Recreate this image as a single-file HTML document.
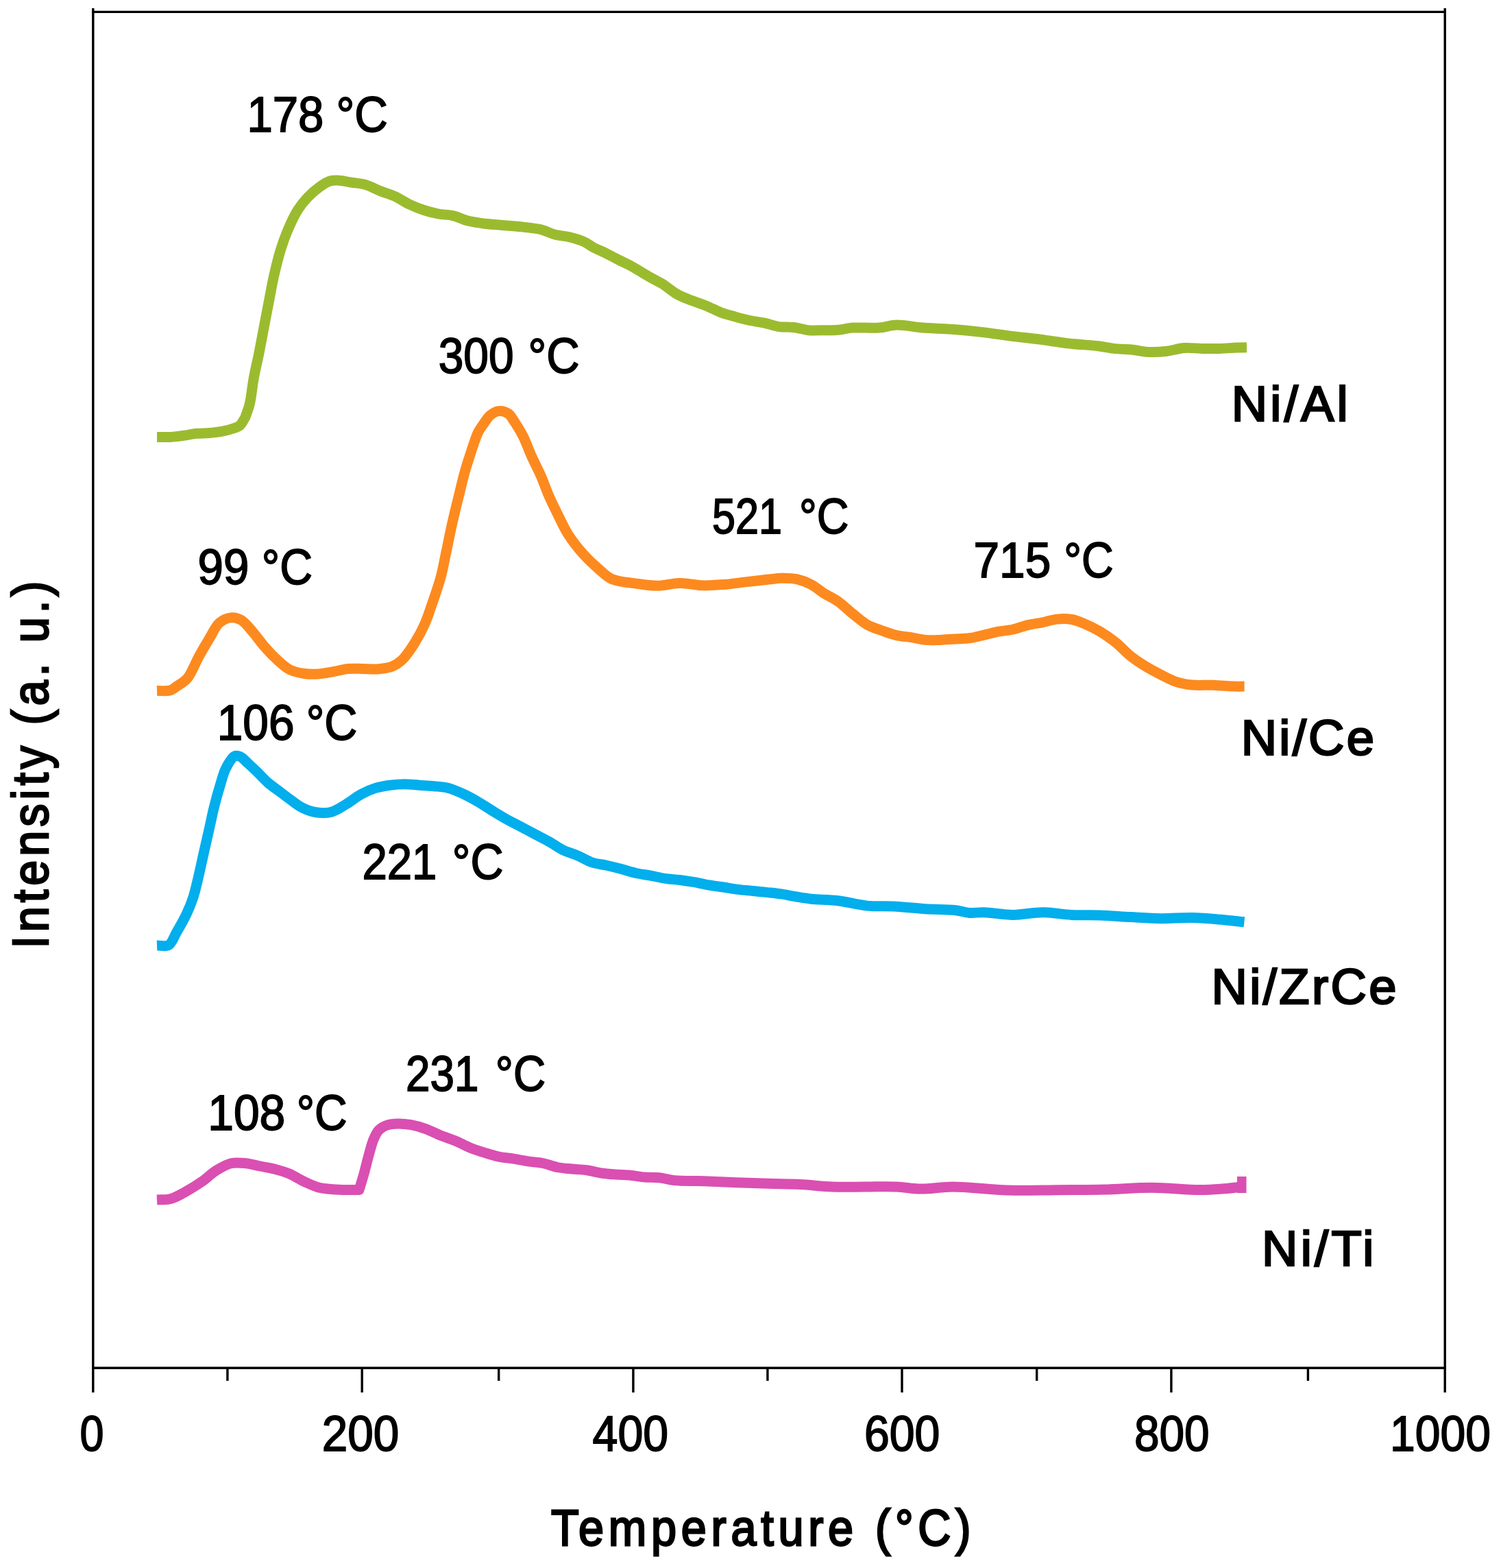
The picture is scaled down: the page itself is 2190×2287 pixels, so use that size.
<!DOCTYPE html>
<html><head><meta charset="utf-8"><title>H2-TPR profiles</title>
<style>html,body{margin:0;padding:0;background:#fff;}svg{display:block;}</style></head>
<body>
<svg width="2190" height="2287" viewBox="0 0 2190 2287" font-family="'Liberation Sans', Arial, sans-serif" fill="#000"><rect x="0" y="0" width="2190" height="2287" fill="#fff"/>
<path d="M229.0,637.4 C235.7,637.4 242.4,637.8 249.0,637.4 C255.4,637.0 261.7,636.1 268.0,635.3 C274.3,634.4 280.6,632.9 287.0,632.3 C293.3,631.7 299.6,632.1 306.0,631.5 C312.5,630.9 319.5,630.1 325.5,628.9 C330.7,627.9 335.7,626.5 340.0,625.0 C343.7,623.7 347.1,622.9 350.0,620.5 C353.3,617.7 355.3,612.5 357.9,608.5 C360.0,602.2 362.4,597.1 364.2,589.6 C366.7,579.3 367.9,564.4 370.2,551.9 C372.5,539.3 375.6,526.8 378.1,514.2 C380.6,501.6 382.9,489.0 385.3,476.4 C387.7,463.8 390.1,451.3 392.5,438.7 C395.0,426.1 397.1,413.4 400.0,400.9 C402.9,388.3 406.2,374.8 409.8,363.2 C413.0,353.0 416.2,344.2 420.2,334.9 C424.3,325.4 429.1,314.9 434.3,306.6 C438.8,299.4 443.7,293.4 449.1,287.7 C454.4,282.1 460.6,276.7 466.4,272.6 C471.4,269.0 476.7,265.5 481.5,264.0 C485.4,262.8 488.5,262.9 492.8,263.0 C498.4,263.2 505.4,265.0 512.0,266.0 C518.9,267.1 526.3,267.4 533.3,269.4 C540.5,271.5 547.5,275.6 554.6,278.4 C561.7,281.2 568.9,283.0 575.9,286.2 C583.1,289.5 590.0,294.6 597.2,298.0 C604.2,301.3 611.3,304.2 618.5,306.5 C625.5,308.8 632.7,310.6 639.8,312.0 C646.9,313.3 654.1,313.0 661.1,314.6 C668.3,316.3 675.3,320.1 682.5,322.0 C689.5,323.8 696.7,324.7 703.8,325.7 C710.9,326.7 717.9,327.2 725.0,327.8 C732.1,328.4 739.3,328.9 746.4,329.5 C753.5,330.1 760.6,330.7 767.7,331.6 C774.8,332.5 782.0,333.1 789.0,334.8 C796.2,336.6 803.1,340.4 810.3,342.3 C817.3,344.1 824.6,344.2 831.6,346.0 C838.8,347.8 846.8,350.2 852.9,353.0 C857.9,355.3 861.4,358.5 866.0,361.0 C870.8,363.6 875.8,365.3 881.3,368.0 C887.8,371.2 895.5,375.4 902.6,379.0 C909.7,382.6 916.9,385.8 923.9,389.7 C931.1,393.7 938.0,398.4 945.2,402.5 C952.3,406.6 959.6,409.9 966.6,414.2 C973.8,418.7 980.6,425.0 987.9,429.1 C994.8,433.0 1002.1,435.5 1009.2,438.3 C1016.3,441.1 1023.5,443.2 1030.5,446.1 C1037.7,449.0 1044.6,453.0 1051.8,455.7 C1058.8,458.3 1066.0,460.1 1073.1,462.1 C1080.2,464.1 1087.3,466.0 1094.4,467.5 C1101.5,469.0 1108.6,469.6 1115.7,471.1 C1122.8,472.6 1129.8,475.5 1137.0,476.6 C1144.1,477.6 1151.3,476.7 1158.4,477.5 C1165.5,478.3 1172.6,481.0 1179.7,481.7 C1186.8,482.4 1193.9,481.8 1201.0,481.7 C1208.1,481.6 1215.2,481.9 1222.3,481.3 C1229.4,480.7 1235.4,478.7 1243.6,478.1 C1254.6,477.3 1271.0,478.9 1282.6,478.0 C1292.1,477.3 1298.8,474.3 1308.2,474.1 C1319.7,473.8 1333.5,477.0 1346.6,478.0 C1360.4,479.1 1375.0,479.2 1389.2,480.3 C1403.4,481.4 1417.6,482.8 1431.8,484.4 C1446.0,486.0 1460.2,488.3 1474.4,490.1 C1488.6,491.9 1502.8,493.2 1517.0,495.0 C1531.2,496.8 1545.5,499.4 1559.7,501.0 C1573.9,502.6 1590.2,503.3 1602.3,504.8 C1611.2,505.9 1617.6,507.5 1625.6,508.4 C1633.9,509.3 1642.6,509.2 1651.1,510.0 C1659.6,510.9 1668.1,513.1 1676.7,513.5 C1685.2,513.9 1693.8,513.2 1702.3,512.2 C1710.9,511.2 1719.3,508.1 1727.9,507.5 C1736.4,506.9 1744.9,508.2 1753.4,508.4 C1761.9,508.6 1770.5,508.6 1779.0,508.4 C1787.5,508.2 1797.3,507.4 1804.6,507.1 C1810.1,506.9 1814.2,506.8 1819.0,506.7" fill="none" stroke="#9bbb2f" stroke-width="15.0" stroke-linejoin="round" stroke-linecap="butt"/>
<path d="M229.0,1007.5 C235.3,1007.3 242.8,1008.5 248.0,1007.0 C252.0,1005.8 254.4,1003.5 258.0,1001.0 C262.6,997.8 268.6,994.8 273.3,989.3 C279.7,981.7 284.7,967.4 290.3,957.4 C295.3,948.3 300.1,940.1 305.2,931.8 C310.1,923.8 314.1,913.6 320.2,908.4 C325.2,904.2 331.6,901.4 337.2,900.9 C342.3,900.4 347.3,901.8 352.1,904.5 C358.1,908.0 363.7,915.9 369.2,922.2 C375.0,928.8 380.2,936.7 386.2,943.5 C392.2,950.4 399.0,957.5 405.4,963.3 C411.1,968.4 416.1,973.4 422.5,976.6 C428.9,979.8 436.6,981.4 443.8,982.5 C450.8,983.5 457.9,983.5 465.0,983.0 C472.1,982.5 479.3,980.9 486.4,979.7 C493.5,978.4 500.6,976.2 507.7,975.5 C514.8,974.8 521.9,975.4 529.0,975.5 C536.1,975.6 543.2,976.4 550.3,975.9 C557.4,975.4 565.3,974.8 571.6,972.3 C577.4,970.1 581.9,967.0 586.8,962.4 C592.9,956.6 598.8,947.5 604.2,939.1 C609.9,930.1 615.4,919.9 619.8,910.0 C624.1,900.5 626.8,891.3 630.4,880.9 C634.5,868.9 639.5,855.1 643.0,842.1 C646.5,829.3 648.6,816.2 651.4,803.3 C654.1,790.4 656.6,777.5 659.5,764.6 C662.4,751.7 665.6,738.7 668.8,725.8 C672.0,712.9 675.3,698.2 678.5,687.0 C680.9,678.3 683.5,670.9 685.7,664.0 C687.6,658.2 689.0,653.6 690.9,648.2 C693.0,642.3 695.1,635.4 697.9,630.0 C700.3,625.3 703.2,621.5 706.1,617.5 C708.9,613.5 711.4,609.0 715.0,606.0 C718.5,603.1 722.8,600.1 727.1,599.6 C731.6,599.0 737.4,600.5 741.4,603.1 C745.6,605.9 748.0,611.4 751.4,616.4 C755.4,622.4 759.8,629.5 763.6,637.1 C767.9,645.7 771.4,656.2 775.7,665.7 C780.0,675.3 785.1,684.7 789.3,694.3 C793.4,703.8 796.6,713.4 800.7,722.9 C804.9,732.5 809.6,741.9 814.3,751.4 C819.1,761.0 823.3,770.7 829.3,780.0 C835.6,789.8 843.7,800.0 851.4,808.6 C858.5,816.5 866.4,823.8 873.6,830.0 C879.9,835.4 884.4,840.8 892.1,844.3 C901.7,848.6 916.3,849.4 927.9,851.1 C938.8,852.7 949.2,854.4 959.8,854.3 C970.5,854.2 981.1,850.5 991.8,850.4 C1002.5,850.3 1013.1,853.4 1023.8,853.8 C1034.4,854.2 1045.1,853.4 1055.7,852.6 C1066.4,851.8 1077.0,850.1 1087.7,848.9 C1098.4,847.7 1110.1,846.3 1119.7,845.3 C1127.5,844.5 1133.9,843.3 1141.0,843.2 C1148.1,843.1 1155.3,843.2 1162.3,844.7 C1169.5,846.3 1177.0,849.2 1183.6,852.6 C1190.0,855.9 1195.0,860.8 1201.3,864.8 C1208.0,869.0 1215.7,872.3 1222.6,877.1 C1229.9,882.2 1236.7,889.3 1243.9,895.0 C1250.9,900.6 1257.8,907.0 1265.2,911.2 C1272.1,915.1 1279.4,917.1 1286.6,919.7 C1293.7,922.2 1300.7,924.9 1307.9,926.6 C1314.9,928.2 1322.1,928.6 1329.2,929.7 C1336.3,930.8 1343.4,932.8 1350.5,933.4 C1357.6,934.0 1364.7,933.6 1371.8,933.4 C1378.9,933.2 1386.0,932.3 1393.1,931.9 C1400.2,931.5 1407.3,931.8 1414.4,930.8 C1421.5,929.8 1428.6,927.7 1435.7,926.1 C1442.8,924.5 1449.9,922.6 1457.0,921.2 C1464.1,919.9 1471.2,919.6 1478.3,918.0 C1485.5,916.4 1492.5,913.3 1499.7,911.6 C1506.8,909.9 1513.9,909.2 1521.0,907.8 C1528.1,906.4 1535.2,903.8 1542.3,903.1 C1549.4,902.4 1556.8,902.3 1563.6,903.5 C1570.2,904.6 1576.0,907.1 1582.4,909.8 C1589.6,912.8 1597.5,916.7 1604.8,921.0 C1612.4,925.5 1619.8,930.6 1627.1,936.4 C1634.8,942.5 1641.8,950.7 1649.5,956.8 C1656.8,962.6 1664.3,967.5 1671.9,972.2 C1679.3,976.7 1686.8,980.6 1694.3,984.4 C1701.7,988.1 1709.0,992.2 1716.6,994.6 C1723.9,997.0 1731.0,998.2 1739.0,999.0 C1748.2,999.9 1758.9,999.0 1768.8,999.3 C1778.8,999.6 1790.1,1000.8 1798.7,1001.1 C1805.1,1001.3 1810.0,1001.1 1815.6,1001.1" fill="none" stroke="#fd8a1f" stroke-width="15.0" stroke-linejoin="round" stroke-linecap="butt"/>
<path d="M229.0,1379.0 C234.7,1378.8 241.4,1381.1 246.0,1378.5 C251.2,1375.5 253.5,1366.8 257.5,1360.0 C262.2,1351.9 268.0,1341.9 272.2,1333.0 C276.1,1324.8 279.1,1317.4 282.0,1308.5 C285.2,1298.5 287.6,1286.8 290.2,1275.9 C292.8,1265.0 295.0,1254.1 297.5,1243.2 C299.9,1232.3 302.5,1221.5 304.9,1210.6 C307.4,1199.7 309.5,1188.8 312.2,1177.9 C314.9,1167.0 318.1,1155.4 321.2,1145.3 C323.9,1136.5 325.7,1128.1 329.4,1120.8 C332.9,1114.0 338.0,1104.8 342.4,1102.8 C345.1,1101.6 347.8,1102.5 350.6,1103.7 C354.3,1105.3 358.1,1110.0 362.0,1113.5 C366.2,1117.3 370.4,1121.3 375.0,1125.7 C380.2,1130.7 385.8,1137.1 391.4,1142.0 C396.7,1146.6 402.3,1150.2 407.7,1154.3 C413.1,1158.4 418.4,1162.5 424.0,1166.5 C429.6,1170.5 435.0,1175.1 441.3,1178.2 C447.8,1181.4 455.4,1184.0 462.6,1185.0 C469.6,1186.0 477.0,1186.1 483.9,1184.2 C491.2,1182.2 498.2,1177.1 505.2,1172.9 C512.4,1168.6 519.3,1162.6 526.6,1158.6 C533.5,1154.8 540.7,1151.6 547.9,1149.4 C554.9,1147.2 562.1,1146.2 569.2,1145.2 C576.3,1144.3 583.4,1143.7 590.5,1143.7 C597.6,1143.7 604.7,1144.7 611.8,1145.2 C618.9,1145.7 626.0,1146.0 633.1,1146.7 C640.2,1147.4 647.4,1147.6 654.4,1149.4 C661.6,1151.3 668.7,1154.7 675.7,1157.9 C682.9,1161.2 690.0,1165.1 697.0,1169.2 C704.2,1173.3 711.2,1178.2 718.3,1182.5 C725.4,1186.8 732.5,1191.2 739.7,1195.2 C746.8,1199.1 753.9,1202.6 761.0,1206.3 C768.1,1210.0 775.2,1213.8 782.3,1217.6 C789.4,1221.4 796.9,1225.1 803.6,1228.9 C809.8,1232.5 815.0,1236.7 821.3,1239.8 C827.9,1243.1 835.6,1244.9 842.6,1247.9 C849.8,1251.0 856.6,1255.6 863.9,1258.0 C870.9,1260.3 878.1,1260.6 885.2,1262.2 C892.3,1263.8 899.5,1265.6 906.6,1267.5 C913.7,1269.4 920.8,1271.9 927.9,1273.5 C935.0,1275.1 942.1,1275.8 949.2,1277.1 C956.3,1278.4 963.4,1280.3 970.5,1281.4 C977.6,1282.5 984.7,1282.6 991.8,1283.5 C998.9,1284.4 1006.0,1285.5 1013.1,1286.7 C1020.2,1288.0 1027.3,1289.8 1034.4,1291.0 C1041.5,1292.2 1048.6,1292.9 1055.7,1294.0 C1062.8,1295.1 1069.9,1296.5 1077.0,1297.4 C1084.1,1298.3 1091.2,1298.8 1098.3,1299.5 C1105.4,1300.2 1112.6,1300.8 1119.7,1301.6 C1126.8,1302.4 1133.9,1303.1 1141.0,1304.2 C1148.1,1305.3 1155.2,1306.8 1162.3,1308.0 C1169.4,1309.2 1175.4,1310.3 1183.6,1311.2 C1194.6,1312.4 1209.4,1312.1 1222.6,1313.7 C1236.5,1315.4 1250.9,1319.7 1265.2,1321.1 C1279.4,1322.5 1293.7,1321.4 1307.9,1322.2 C1322.1,1323.0 1336.3,1324.9 1350.5,1325.8 C1364.7,1326.7 1381.4,1326.2 1393.1,1327.5 C1401.5,1328.4 1407.3,1330.9 1414.4,1331.4 C1421.5,1331.9 1427.4,1330.5 1435.7,1330.7 C1447.5,1331.0 1464.1,1334.4 1478.3,1334.4 C1492.5,1334.4 1506.8,1330.7 1521.0,1330.7 C1535.2,1330.7 1549.5,1333.7 1563.6,1334.4 C1577.4,1335.1 1590.8,1334.4 1604.8,1334.9 C1619.4,1335.4 1634.6,1336.8 1649.5,1337.6 C1664.4,1338.4 1679.4,1339.6 1694.3,1339.7 C1709.2,1339.8 1724.1,1338.2 1739.0,1338.5 C1753.9,1338.8 1770.2,1340.3 1783.8,1341.5 C1795.3,1342.5 1804.9,1343.7 1815.4,1344.8" fill="none" stroke="#02aeec" stroke-width="15.0" stroke-linejoin="round" stroke-linecap="butt"/>
<path d="M229.0,1750.0 C235.0,1749.7 241.8,1750.1 247.0,1749.0 C251.2,1748.1 254.1,1746.7 258.0,1745.0 C262.8,1742.9 267.8,1740.0 273.3,1736.8 C279.9,1733.0 287.6,1728.3 294.6,1723.4 C301.8,1718.3 308.6,1711.4 315.9,1706.9 C322.8,1702.7 329.9,1698.4 337.2,1696.7 C344.1,1695.1 351.4,1696.0 358.5,1696.7 C365.6,1697.4 372.7,1699.6 379.8,1701.0 C386.9,1702.4 394.0,1703.4 401.1,1705.2 C408.3,1707.1 415.5,1709.1 422.5,1712.1 C429.7,1715.2 436.6,1720.1 443.8,1723.4 C450.8,1726.6 457.8,1730.0 465.0,1731.9 C472.0,1733.7 479.3,1734.1 486.4,1734.7 C493.5,1735.3 501.1,1735.4 507.7,1735.5 C513.5,1735.6 518.6,1735.5 524.0,1735.5 C526.3,1727.7 528.7,1720.1 531.0,1712.0 C533.4,1703.3 535.6,1693.6 538.0,1685.0 C540.3,1677.0 542.2,1668.6 545.0,1662.0 C547.3,1656.6 549.5,1651.6 553.0,1648.0 C556.3,1644.7 560.6,1642.5 565.0,1641.0 C569.6,1639.4 574.6,1639.1 580.0,1639.0 C586.2,1638.9 593.3,1639.5 600.0,1640.7 C607.0,1642.0 614.3,1644.1 621.3,1646.6 C628.5,1649.2 635.5,1653.1 642.6,1656.0 C649.7,1658.8 656.9,1660.8 663.9,1663.7 C671.1,1666.7 678.0,1670.8 685.2,1673.7 C692.2,1676.6 699.4,1678.9 706.6,1681.1 C713.7,1683.3 720.7,1685.6 727.9,1687.1 C735.0,1688.6 742.1,1689.0 749.2,1690.1 C756.3,1691.2 763.4,1692.8 770.5,1693.9 C777.6,1695.0 784.8,1695.1 791.8,1696.5 C799.0,1697.9 805.9,1701.1 813.1,1702.5 C820.1,1703.9 827.3,1704.3 834.4,1705.0 C841.5,1705.7 848.6,1705.7 855.7,1706.7 C862.8,1707.7 869.9,1709.9 877.0,1711.0 C884.1,1712.1 891.2,1712.6 898.3,1713.1 C905.4,1713.6 912.6,1713.6 919.7,1714.2 C926.8,1714.9 933.9,1716.4 941.0,1717.0 C948.1,1717.6 955.2,1717.0 962.3,1717.8 C969.4,1718.6 975.2,1720.7 983.6,1721.6 C995.5,1722.8 1012.2,1722.3 1026.9,1722.8 C1042.2,1723.3 1058.2,1724.1 1073.8,1724.7 C1089.4,1725.3 1105.0,1725.8 1120.6,1726.3 C1136.2,1726.8 1151.9,1726.7 1167.5,1727.5 C1183.1,1728.3 1198.8,1730.4 1214.4,1731.0 C1230.0,1731.6 1245.7,1731.0 1261.3,1731.0 C1276.9,1731.0 1293.7,1730.4 1308.2,1731.0 C1320.8,1731.6 1330.7,1734.0 1343.3,1734.1 C1357.8,1734.3 1372.5,1731.0 1390.2,1731.0 C1413.3,1731.0 1444.5,1735.2 1470.3,1736.0 C1494.5,1736.7 1517.2,1735.9 1540.6,1735.7 C1564.1,1735.5 1587.5,1735.6 1611.0,1735.0 C1634.4,1734.4 1657.9,1732.1 1681.3,1732.2 C1704.7,1732.3 1731.7,1735.6 1751.6,1735.5 C1766.3,1735.5 1779.6,1734.3 1790.0,1733.5 C1797.1,1732.9 1802.0,1732.2 1808.0,1731.5" fill="none" stroke="#da4fb2" stroke-width="15.0" stroke-linejoin="round" stroke-linecap="butt"/>
<rect x="1805" y="1716" width="13.5" height="24" fill="#da4fb2"/>
<g stroke="#000" stroke-width="3.4" stroke-linecap="butt"><line x1="135.8" y1="12" x2="135.8" y2="2031" /><line x1="2108.2" y1="12" x2="2108.2" y2="2031" /><line x1="134.10000000000002" y1="17.4" x2="2109.8999999999996" y2="17.4" /><line x1="134.10000000000002" y1="1995.2" x2="2109.8999999999996" y2="1995.2" /><line x1="331.9" y1="1995.2" x2="331.9" y2="2014" /><line x1="528.2" y1="1995.2" x2="528.2" y2="2031" /><line x1="727.7" y1="1995.2" x2="727.7" y2="2014" /><line x1="923.9" y1="1995.2" x2="923.9" y2="2031" /><line x1="1119.9" y1="1995.2" x2="1119.9" y2="2014" /><line x1="1316.0" y1="1995.2" x2="1316.0" y2="2031" /><line x1="1512.7" y1="1995.2" x2="1512.7" y2="2014" /><line x1="1708.9" y1="1995.2" x2="1708.9" y2="2031" /><line x1="1908.4" y1="1995.2" x2="1908.4" y2="2014" /></g>
<text y="191.9" font-size="71.5" stroke="#000" stroke-width="1.8"><tspan x="360.5" textLength="111.9" lengthAdjust="spacingAndGlyphs">178</tspan> <tspan x="490.4" textLength="75.4" lengthAdjust="spacingAndGlyphs">°C</tspan></text>
<text y="543.7" font-size="71.5" stroke="#000" stroke-width="1.8"><tspan x="639.7" textLength="109.9" lengthAdjust="spacingAndGlyphs">300</tspan> <tspan x="770.5" textLength="75.1" lengthAdjust="spacingAndGlyphs">°C</tspan></text>
<text y="777.7" font-size="71.5" stroke="#000" stroke-width="1.8"><tspan x="1039.1" textLength="102.0" lengthAdjust="spacingAndGlyphs">521</tspan> <tspan x="1165.9" textLength="72.4" lengthAdjust="spacingAndGlyphs">°C</tspan></text>
<text y="851.9" font-size="71.5" stroke="#000" stroke-width="1.8"><tspan x="288.6" textLength="74.7" lengthAdjust="spacingAndGlyphs">99</tspan> <tspan x="381.8" textLength="74.1" lengthAdjust="spacingAndGlyphs">°C</tspan></text>
<text y="841.6" font-size="71.5" stroke="#000" stroke-width="1.8"><tspan x="1420.5" textLength="112.7" lengthAdjust="spacingAndGlyphs">715</tspan> <tspan x="1552.2" textLength="72.4" lengthAdjust="spacingAndGlyphs">°C</tspan></text>
<text y="1079.0" font-size="71.5" stroke="#000" stroke-width="1.8"><tspan x="316.8" textLength="112.7" lengthAdjust="spacingAndGlyphs">106</tspan> <tspan x="446.7" textLength="74.6" lengthAdjust="spacingAndGlyphs">°C</tspan></text>
<text y="1282.2" font-size="71.5" stroke="#000" stroke-width="1.8"><tspan x="528.4" textLength="108.9" lengthAdjust="spacingAndGlyphs">221</tspan> <tspan x="659.8" textLength="74.6" lengthAdjust="spacingAndGlyphs">°C</tspan></text>
<text y="1590.5" font-size="71.5" stroke="#000" stroke-width="1.8"><tspan x="592.1" textLength="106.4" lengthAdjust="spacingAndGlyphs">231</tspan> <tspan x="722.8" textLength="73.2" lengthAdjust="spacingAndGlyphs">°C</tspan></text>
<text y="1648.0" font-size="71.5" stroke="#000" stroke-width="1.8"><tspan x="303.2" textLength="113.1" lengthAdjust="spacingAndGlyphs">108</tspan> <tspan x="432.8" textLength="73.8" lengthAdjust="spacingAndGlyphs">°C</tspan></text>
<text x="1796.8" y="613.5" font-size="72.5" stroke="#000" stroke-width="2.6" textLength="169.9" lengthAdjust="spacing">Ni/Al</text>
<text x="1810.7" y="1101.3" font-size="72.5" stroke="#000" stroke-width="2.6" textLength="194.3" lengthAdjust="spacing">Ni/Ce</text>
<text x="1767.4" y="1463.5" font-size="72.5" stroke="#000" stroke-width="2.6" textLength="270.3" lengthAdjust="spacing">Ni/ZrCe</text>
<text x="1841.1" y="1846.3" font-size="72.5" stroke="#000" stroke-width="2.6" textLength="163.3" lengthAdjust="spacing">Ni/Ti</text>
<text x="116.6" y="2115.6" font-size="71.5" stroke="#000" stroke-width="1.8" textLength="35.0" lengthAdjust="spacingAndGlyphs">0</text>
<text x="469.8" y="2115.6" font-size="71.5" stroke="#000" stroke-width="1.8" textLength="112.5" lengthAdjust="spacingAndGlyphs">200</text>
<text x="864.6" y="2115.6" font-size="71.5" stroke="#000" stroke-width="1.8" textLength="110.5" lengthAdjust="spacingAndGlyphs">400</text>
<text x="1260.9" y="2115.6" font-size="71.5" stroke="#000" stroke-width="1.8" textLength="110.4" lengthAdjust="spacingAndGlyphs">600</text>
<text x="1654.9" y="2115.6" font-size="71.5" stroke="#000" stroke-width="1.8" textLength="109.6" lengthAdjust="spacingAndGlyphs">800</text>
<text x="2028.1" y="2115.6" font-size="71.5" stroke="#000" stroke-width="1.8" textLength="146.8" lengthAdjust="spacingAndGlyphs">1000</text>
<text transform="translate(804,2253.8) scale(0.9,1)" x="0" y="0" font-size="74" stroke="#000" stroke-width="2.8" textLength="680.4" lengthAdjust="spacing">Temperature (°C)</text>
<text transform="translate(69.6,1378.6) rotate(-90) translate(-5,0) scale(0.9,1)" x="0" y="0" font-size="74" stroke="#000" stroke-width="2.8" textLength="595.5" lengthAdjust="spacing">Intensity (a. u.)</text></svg>
</body></html>
